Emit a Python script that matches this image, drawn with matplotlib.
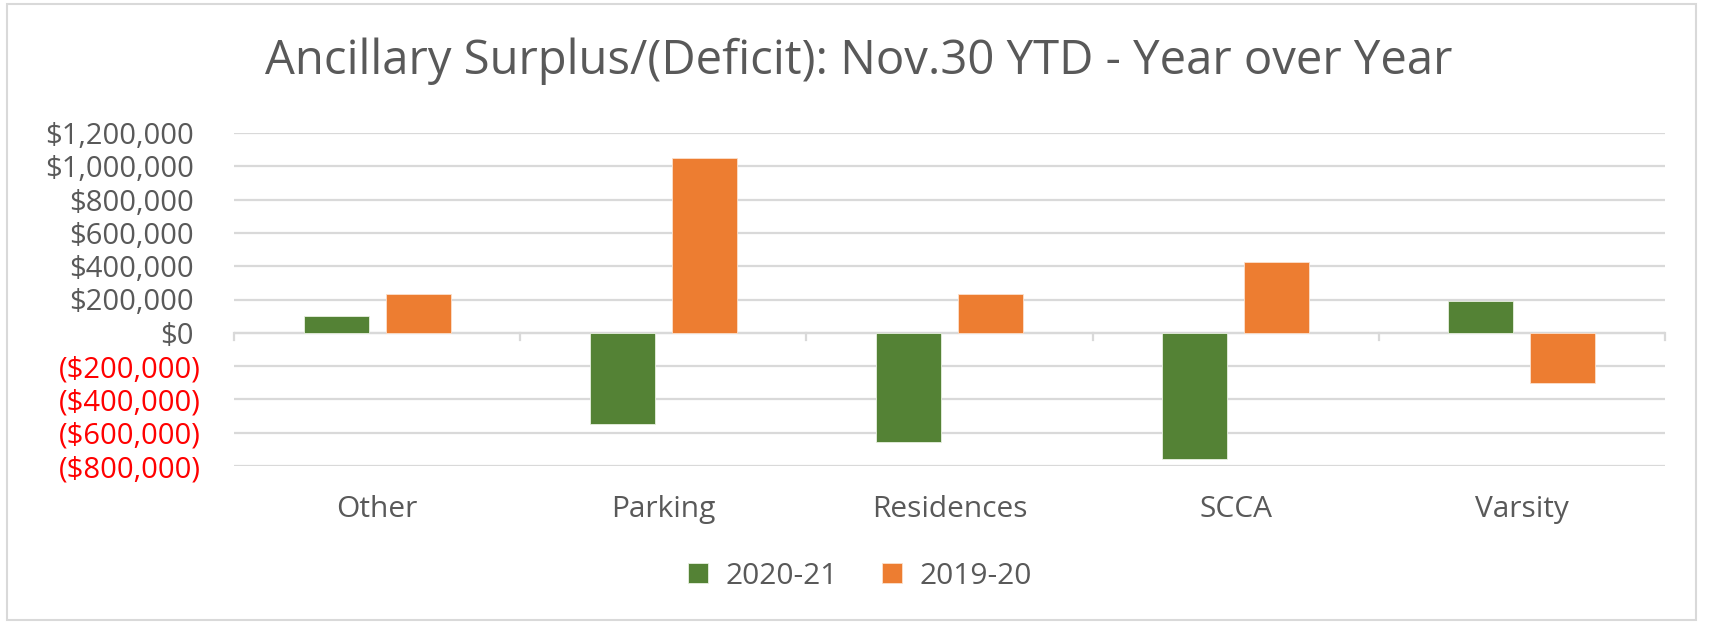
import numpy as np
import matplotlib.pyplot as plt
import matplotlib.transforms as mtransforms
from matplotlib.patches import Rectangle

# Data
categories = ["Other", "Parking", "Residences", "SCCA", "Varsity"]
fy_2021 = [102000, -547000, -657000, -756000, 192000]
fy_1920 = [232000, 1050000, 232000, 427000, -301000]
series_names = ["2020-21", "2019-20"]

GREEN = "#548235"
ORANGE = "#ED7D31"
GRID = "#D9D9D9"
TXT = "#595959"

plt.rcParams['font.family'] = ['Open Sans', 'DejaVu Sans']

fig = plt.figure(figsize=(17.1, 6.24), dpi=100)
ax = fig.add_axes([234 / 1710, 1 - 466 / 624, (1665 - 234) / 1710, (466 - 133) / 624])

# outer chart border
fig.patches.append(Rectangle((7 / 1710, 4 / 624), (1696 - 7) / 1710, (620 - 4) / 624,
                             transform=fig.transFigure, fill=False, edgecolor=GRID, lw=1.5))

x = np.arange(len(categories))
w = 0.227
off = 0.1435
ax.bar(x - off, fy_2021, w, color=GREEN, edgecolor="#e8f0e0", linewidth=0.6, label=series_names[0], zorder=3)
ax.bar(x + off, fy_1920, w, color=ORANGE, edgecolor="#fbe0cc", linewidth=0.6, label=series_names[1], zorder=3)

ax.set_xlim(-0.5, len(categories) - 0.5)
ax.set_ylim(-800000, 1200000)
yt = np.arange(-800000, 1200001, 200000)
ax.set_yticks(yt)

def fmt(v):
    if v < 0:
        return "(${:,.0f})".format(-v)
    return "${:,.0f}".format(v)

ax.set_yticklabels([fmt(v) for v in yt], fontsize=21)
ax.tick_params(axis='y', length=0, pad=24)
ax.grid(axis='y', color=GRID, lw=1.6, zorder=0)
for s in ax.spines.values():
    s.set_visible(False)

shift = mtransforms.ScaledTranslation(-7 / 100, 0, fig.dpi_scale_trans)
for lab, v in zip(ax.get_yticklabels(), yt):
    if v < 0:
        lab.set_color("#FF0000")
    else:
        lab.set_color(TXT)
        lab.set_transform(lab.get_transform() + shift)

# zero axis and boundary ticks
ax.axhline(0, color=GRID, lw=1.6, zorder=2)
for b in np.arange(-0.5, len(categories), 1.0):
    ax.plot([b, b], [0, -45000], color=GRID, lw=1.6, zorder=2, clip_on=False)

ax.set_xticks(x)
ax.set_xticklabels(categories, fontsize=21.5, color=TXT)
ax.tick_params(axis='x', length=0, pad=21)

fig.text(0.502, 1 - 61 / 624, "Ancillary Surplus/(Deficit): Nov.30 YTD - Year over Year",
         fontsize=34, color=TXT, ha='center', va='center')

fig.legend(loc='center', bbox_to_anchor=(860 / 1710, 1 - 576 / 624), ncol=2, frameon=False,
           fontsize=21.5, labelcolor=TXT, handlelength=0.67, handleheight=0.67,
           columnspacing=1.45, handletextpad=0.6)

plt.savefig("out.png", dpi=100, facecolor="white")
plt.close()
